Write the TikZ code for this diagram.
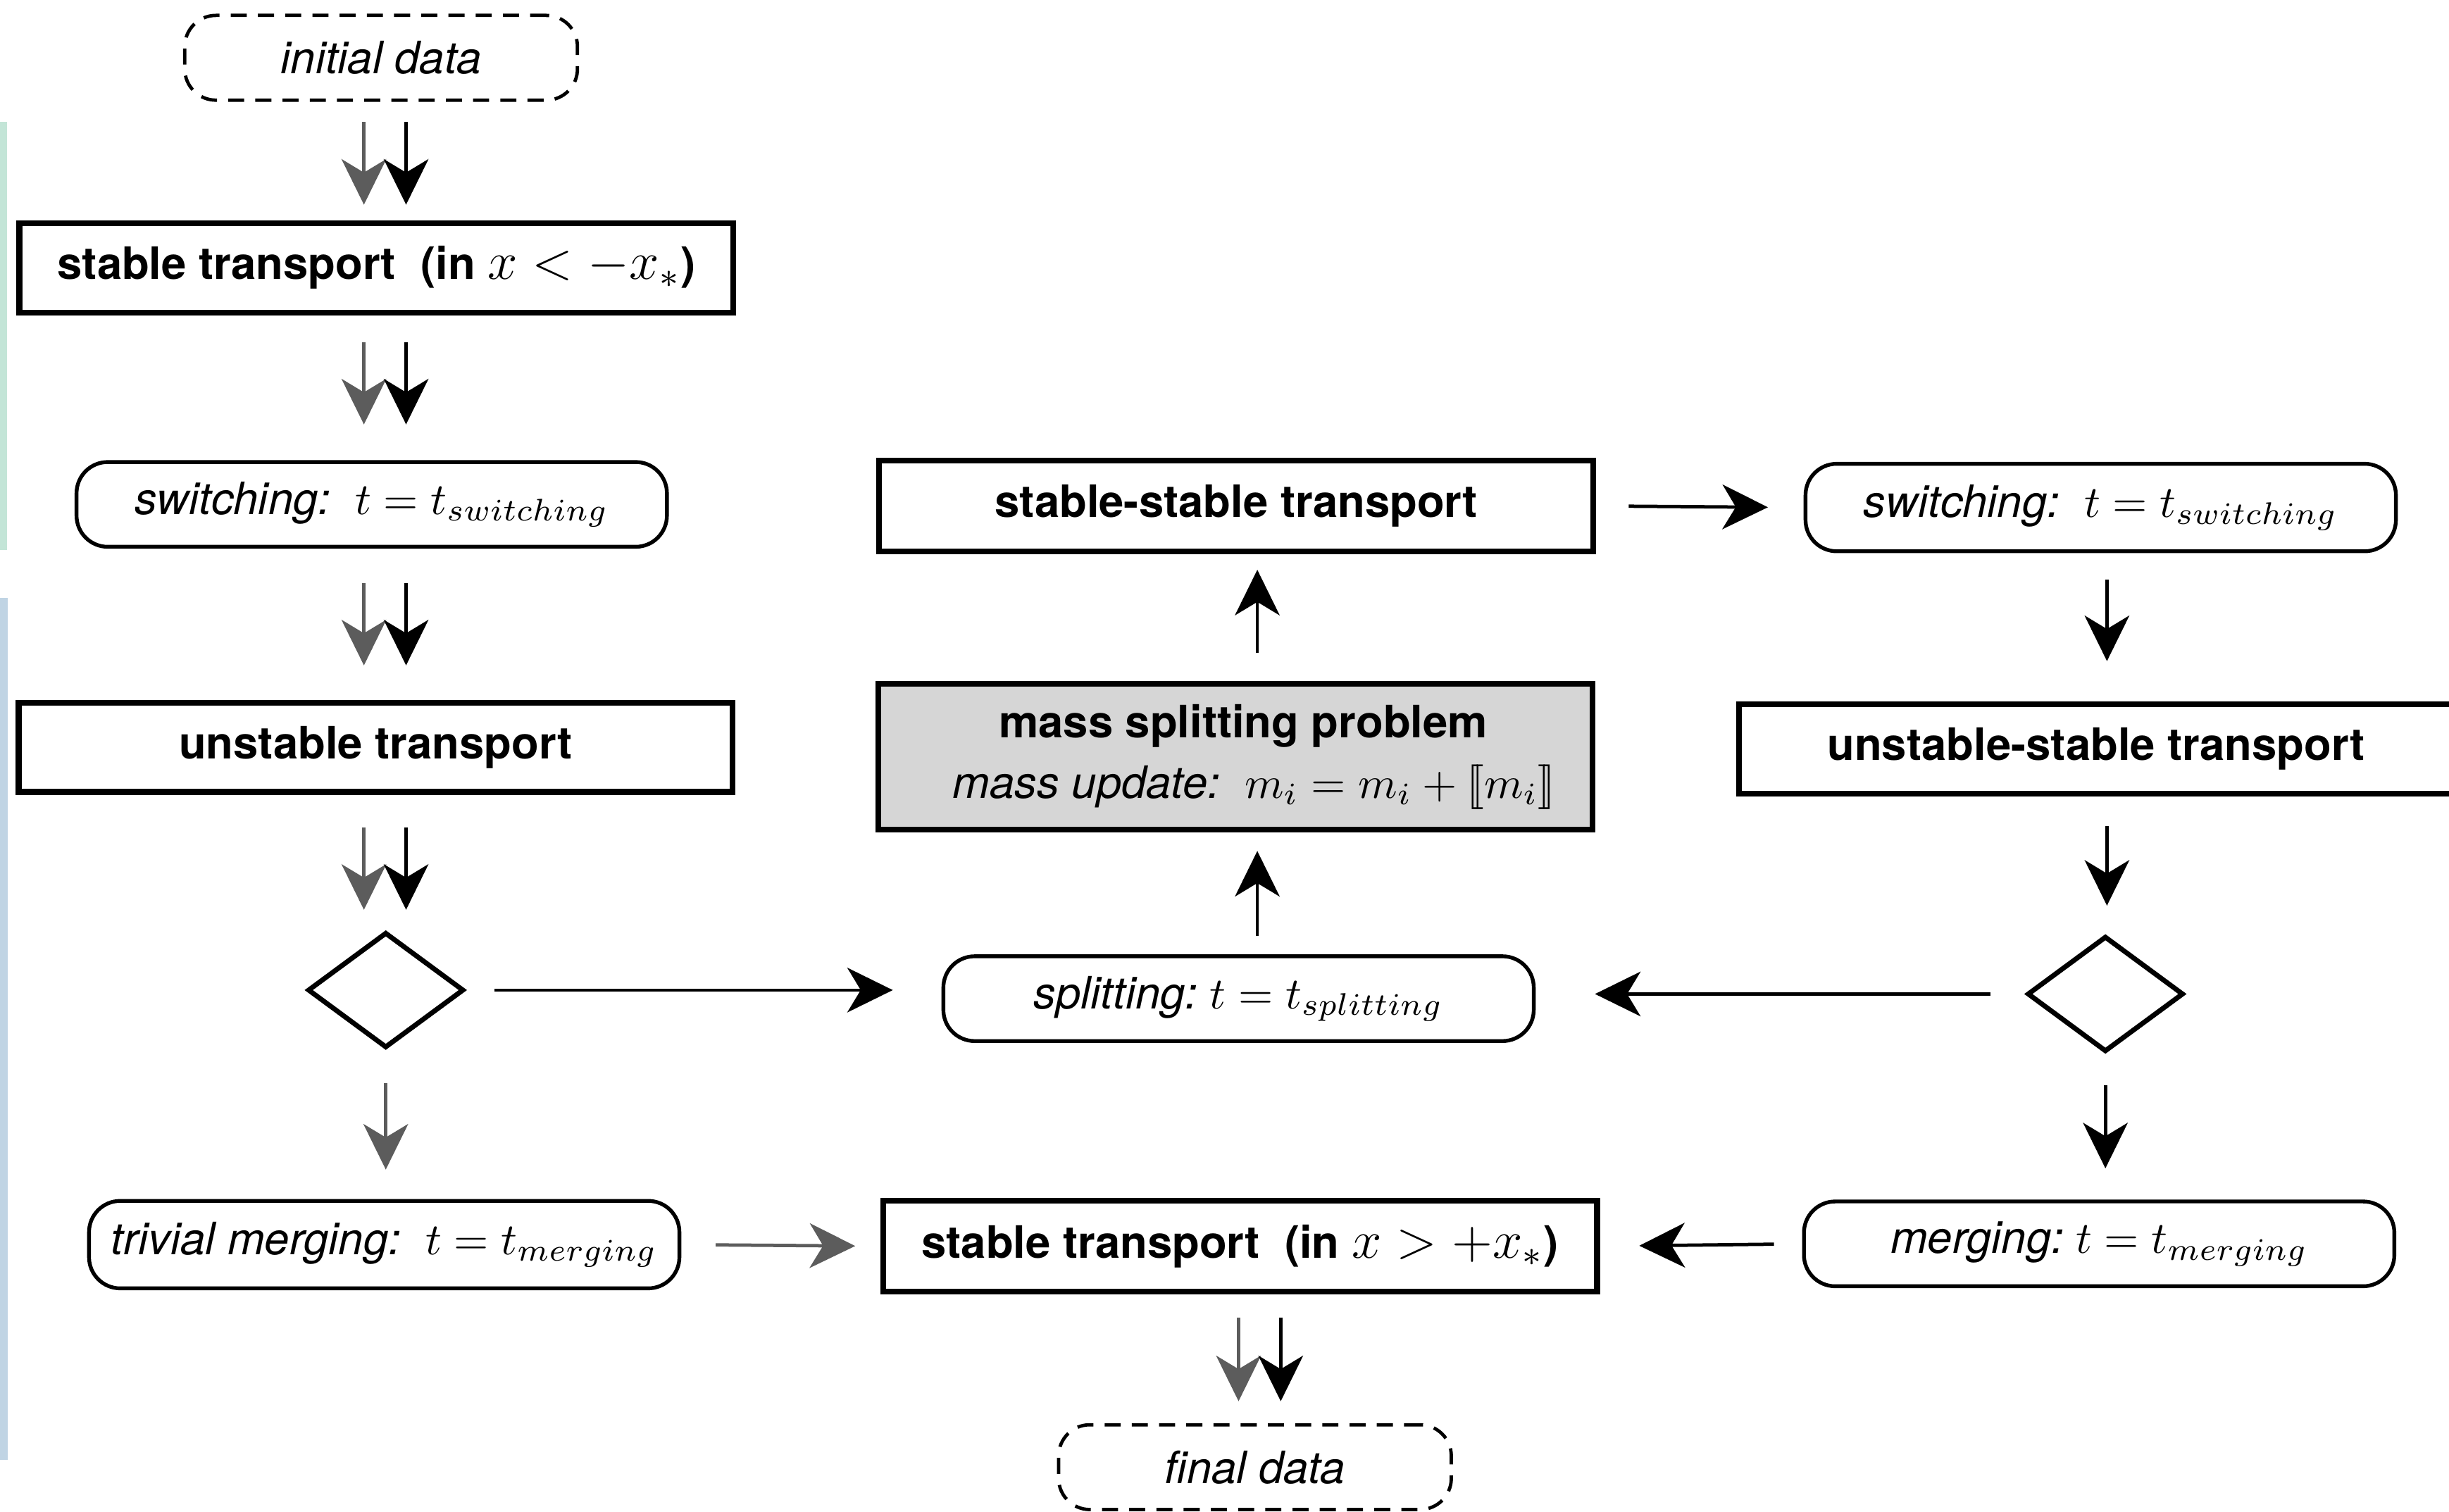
\documentclass[tikz,border=0pt]{standalone}
\usepackage[no-math]{fontspec}
\setmainfont{TeX Gyre Heros}
\usetikzlibrary{shapes.geometric,arrows.meta}
\definecolor{arrgray}{HTML}{5C5C5C}
\definecolor{massfill}{HTML}{D6D6D6}
\definecolor{barGreen}{HTML}{C3E5D7}
\definecolor{barBlue}{HTML}{C0D4E4}
\newcommand\bigmath[1]{{\fontsize{12}{14}\selectfont$#1$}}
\tikzset{
  arr/.style={line width=0.75pt, -{Stealth[length=10.2pt,width=10pt,inset=3pt]}},
  barr/.style={arr, color=black},
  garr/.style={arr, color=arrgray},
  procbox/.style={draw, line width=1.3pt, minimum width=160pt, minimum height=20pt, inner sep=0pt, font=\fontsize{10}{12}\selectfont\bfseries},
  stadium/.style={draw, line width=0.85pt, rounded corners=7pt, minimum width=132.3pt, minimum height=19pt, inner sep=0pt, font=\fontsize{10}{12}\selectfont\itshape},
  termnode/.style={stadium, line width=0.75pt, dash pattern=on 3.6pt off 2.5pt, minimum width=88pt},
  decision/.style={diamond, draw, line width=1.1pt, minimum width=35pt, minimum height=25.9pt, inner sep=0pt},
  massbox/.style={procbox, fill=massfill, minimum height=32.6pt},
  plaintext/.style={inner sep=0pt, font=\fontsize{10}{12}\selectfont},
}
\begin{document}
\begin{tikzpicture}[x=0.35pt,y=-0.35pt]
\path[use as bounding box] (0,0) rectangle (1568,968);
\clip (0,0) rectangle (1568,968);
\fill[barGreen] (0,78) rectangle (4.5,352);
\fill[barBlue] (0,383) rectangle (5,935);

% column coordinates
\coordinate (gx) at (233,0);
\coordinate (bx) at (260,0);
\coordinate (gm) at (793,0);
\coordinate (bm) at (820,0);
\coordinate (mx) at (805,0);
\coordinate (rx) at (1349,0);

% left column
\node[termnode] (init) at (244,37) {initial data};
\node[procbox] (box1) at (241,171.5) {stable transport\ \ (in \bigmath{x<-x_*})};
\node[stadium] (swL) at (238,323) {switching:\ \ $t=t_{switching}$};
\node[procbox] (unst) at (240.5,478.5) {unstable transport};
\node[decision] (diamL) at (247,634) {};
\node[stadium, minimum height=19.6pt] (triv) at (246,797) {trivial merging:\ \ $t=t_{merging}$};

% middle column
\node[procbox, minimum height=20.3pt] (stst) at (791.5,324) {stable-stable transport};
\node[massbox] (mass) at (791,484.5) {};
\node[plaintext, font=\fontsize{10}{12}\selectfont\bfseries] (massT1) at (796,465) {mass splitting problem};
\node[plaintext] (massT2) at (803,504) {\textit{mass update:}\ \ $m_i=m_i+[\![m_i]\!]$};
\node[stadium] (split) at (793,639.5) {splitting:\ $t=t_{splitting}$};
\node[procbox, minimum height=20.3pt] (stR) at (794,798) {stable transport\ \ (in \bigmath{x>+x_*})};
\node[termnode] (final) at (803.5,939.5) {final data};

% right column
\node[stadium, minimum height=19.6pt] (swR) at (1345,325) {switching:\ \ $t=t_{switching}$};
\node[procbox] (unstst) at (1342,479.5) {unstable-stable transport};
\node[decision] (diamR) at (1348,636.5) {};
\node[stadium] (merg) at (1344,796.5) {merging:\ $t=t_{merging}$};

% left column double arrows
\draw[garr, shorten <=4.5pt, shorten >=3.5pt] (init.south -| gx) -- (box1.north -| gx);
\draw[barr, shorten <=4.5pt, shorten >=3.5pt] (init.south -| bx) -- (box1.north -| bx);
\draw[garr, shorten <=6pt, shorten >=8pt] (box1.south -| gx) -- (swL.north -| gx);
\draw[barr, shorten <=6pt, shorten >=8pt] (box1.south -| bx) -- (swL.north -| bx);
\draw[garr, shorten <=7.7pt, shorten >=7.7pt] (swL.south -| gx) -- (unst.north -| gx);
\draw[barr, shorten <=7.7pt, shorten >=7.7pt] (swL.south -| bx) -- (unst.north -| bx);
\draw[garr, shorten <=7.3pt, shorten >=4.5pt] (unst.south -| gx) -- (diamL.north -| gx);
\draw[barr, shorten <=7.3pt, shorten >=4.5pt] (unst.south -| bx) -- (diamL.north -| bx);
\draw[garr, shorten <=7.3pt, shorten >=6.6pt] (diamL.south) -- (diamL.south |- triv.north);
\draw[garr, shorten <=7.7pt, shorten >=5.6pt] (triv.east) -- (stR.west);

% bottom double arrow
\draw[garr, shorten <=5.2pt, shorten >=4.9pt] (stR.south -| gm) -- (final.north -| gm);
\draw[barr, shorten <=5.2pt, shorten >=4.9pt] (stR.south -| bm) -- (final.north -| bm);

% middle connectors
\draw[barr, shorten <=6.3pt, shorten >=10.9pt] (diamL.east) -- (split.west |- diamL.east);
\draw[barr, shorten <=4.2pt, shorten >=4.2pt] (split.north -| mx) -- (mass.south -| mx);
\draw[barr, shorten <=6.3pt, shorten >=3.5pt] (mass.north -| mx) -- (stst.south -| mx);
\draw[barr, shorten <=7.3pt, shorten >=8pt] (stst.east) -- (swR.west);

% right column
\draw[barr, shorten <=6pt, shorten >=9pt] (swR.south -| rx) -- (unstst.north -| rx);
\draw[barr, shorten <=6.6pt, shorten >=6.3pt] (unstst.south -| rx) -- (diamR.north -| rx);
\draw[barr, shorten <=7.7pt, shorten >=13.3pt] (diamR.west) -- (split.east |- diamR.west);
\draw[barr, shorten <=7pt, shorten >=7pt] (diamR.south) -- (diamR.south |- merg.north);
\draw[barr, shorten <=6.3pt, shorten >=8.8pt] (merg.west) -- (stR.east);
\end{tikzpicture}
\end{document}
